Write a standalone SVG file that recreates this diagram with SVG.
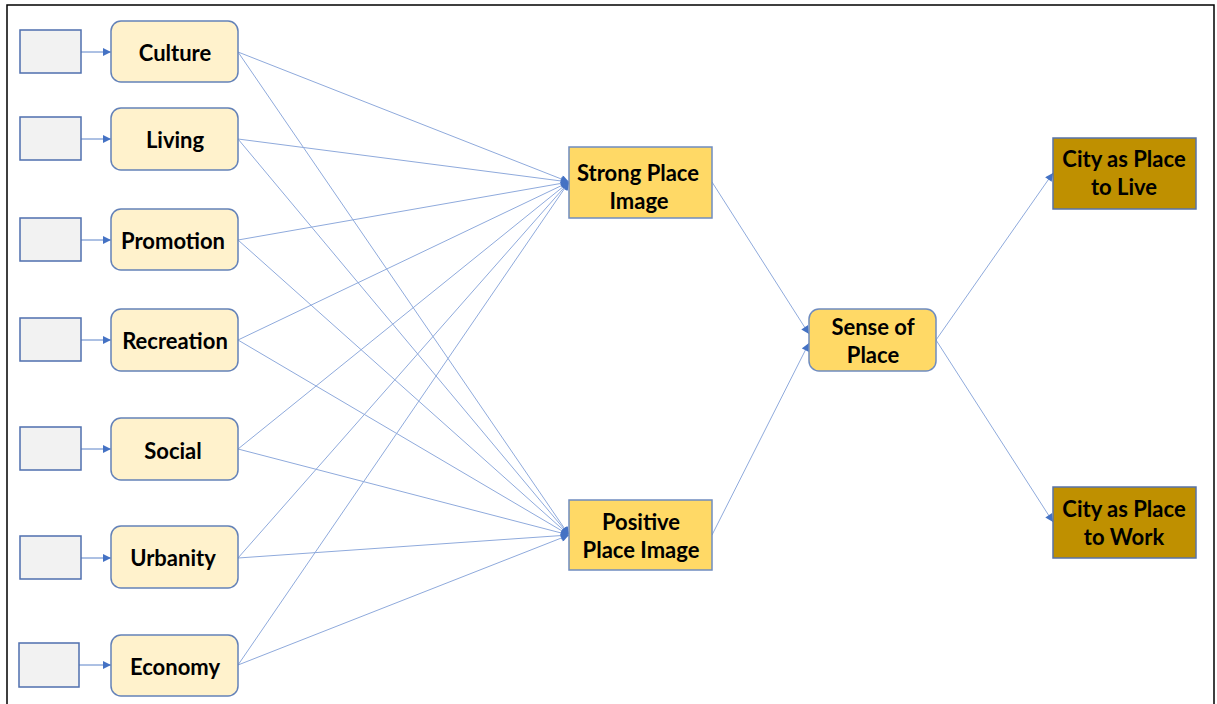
<svg xmlns="http://www.w3.org/2000/svg" width="1217" height="704" viewBox="0 0 1217 704">
<style>
.frame{fill:none;stroke:#000;stroke-width:1.5}
.gray{fill:#F2F2F2;stroke:#4F6FAE;stroke-width:1.5}
.factor{fill:#FFF2CC;stroke:#6482B8;stroke-width:1.5}
.mid{fill:#FFD966;stroke:#6F8CC0;stroke-width:1.5}
.city{fill:#BF9000;stroke:#5873A8;stroke-width:1.5}
.t{font-family:"Lato","Liberation Sans",sans-serif;font-weight:bold;font-size:22px;fill:#000;text-anchor:middle}
.c{fill:none;stroke:#8FAADC;stroke-width:1;marker-end:url(#ah)}
.s{fill:none;stroke:#5B82C8;stroke-width:1;marker-end:url(#ah)}
</style>
<defs>
<marker id="ah" viewBox="0 0 10 10" refX="10" refY="5" markerWidth="9" markerHeight="8" markerUnits="userSpaceOnUse" orient="auto">
<path d="M0,0 L10,5 L0,10 z" fill="#4472C4"/>
</marker>
</defs>
<rect width="1217" height="704" fill="#fff"/>
<path class="frame" d="M7,720 L7,5 L1214,5 L1214,720"/>
<g id="connectors">
<line class="s" x1="81" y1="52" x2="111" y2="52"/>
<line class="s" x1="81" y1="139" x2="111" y2="139"/>
<line class="s" x1="81" y1="240" x2="111" y2="240"/>
<line class="s" x1="81" y1="340" x2="111" y2="340"/>
<line class="s" x1="81" y1="449" x2="111" y2="449"/>
<line class="s" x1="81" y1="558" x2="111" y2="558"/>
<line class="s" x1="79" y1="665" x2="111" y2="665"/>
<line class="c" x1="238" y1="52" x2="569" y2="182"/>
<line class="c" x1="238" y1="139" x2="569" y2="182"/>
<line class="c" x1="238" y1="240" x2="569" y2="182"/>
<line class="c" x1="238" y1="340" x2="569" y2="182"/>
<line class="c" x1="238" y1="449" x2="569" y2="182"/>
<line class="c" x1="238" y1="558" x2="569" y2="182"/>
<line class="c" x1="238" y1="665" x2="569" y2="182"/>
<line class="c" x1="238" y1="52" x2="569" y2="535"/>
<line class="c" x1="238" y1="139" x2="569" y2="535"/>
<line class="c" x1="238" y1="240" x2="569" y2="535"/>
<line class="c" x1="238" y1="340" x2="569" y2="535"/>
<line class="c" x1="238" y1="449" x2="569" y2="535"/>
<line class="c" x1="238" y1="558" x2="569" y2="535"/>
<line class="c" x1="238" y1="665" x2="569" y2="535"/>
<line class="c" x1="712" y1="182" x2="809" y2="334"/>
<line class="c" x1="712" y1="535" x2="809" y2="343"/>
<line class="c" x1="936" y1="340" x2="1053" y2="173"/>
<line class="c" x1="936" y1="340" x2="1053" y2="522"/>
</g>
<g id="g-culture"><rect class="gray" x="20" y="30" width="61" height="43"/></g>
<g id="g-living"><rect class="gray" x="20" y="117" width="61" height="43"/></g>
<g id="g-promotion"><rect class="gray" x="20" y="218" width="61" height="43"/></g>
<g id="g-recreation"><rect class="gray" x="20" y="318" width="61" height="43"/></g>
<g id="g-social"><rect class="gray" x="20" y="427" width="61" height="43"/></g>
<g id="g-urbanity"><rect class="gray" x="20" y="536" width="61" height="43"/></g>
<g id="g-economy"><rect class="gray" x="19" y="643" width="60" height="44"/></g>
<g id="culture"><rect class="factor" x="111" y="21" width="127" height="61" rx="10"/><text class="t" x="175" y="61">Culture</text></g>
<g id="living"><rect class="factor" x="111" y="108" width="127" height="62" rx="10"/><text class="t" x="175" y="148">Living</text></g>
<g id="promotion"><rect class="factor" x="111" y="209" width="127" height="61" rx="10"/><text class="t" x="173" y="249">Promotion</text></g>
<g id="recreation"><rect class="factor" x="111" y="309" width="127" height="62" rx="10"/><text class="t" x="175" y="349">Recreation</text></g>
<g id="social"><rect class="factor" x="111" y="418" width="127" height="62" rx="10"/><text class="t" x="173" y="459">Social</text></g>
<g id="urbanity"><rect class="factor" x="111" y="526" width="127" height="62" rx="10"/><text class="t" x="173" y="566">Urbanity</text></g>
<g id="economy"><rect class="factor" x="111" y="635" width="127" height="61" rx="10"/><text class="t" x="175" y="675">Economy</text></g>
<g id="strong"><rect class="mid" x="569" y="147" width="143" height="71"/><text class="t" x="638" y="181">Strong Place</text><text class="t" x="639" y="209">Image</text></g>
<g id="positive"><rect class="mid" x="569" y="500" width="143" height="70"/><text class="t" x="641" y="530">Positive</text><text class="t" x="641" y="558">Place Image</text></g>
<g id="sense"><rect class="mid" x="809" y="309" width="127" height="62" rx="10"/><text class="t" x="873" y="335">Sense of</text><text class="t" x="873" y="363">Place</text></g>
<g id="live"><rect class="city" x="1053" y="138" width="143" height="71"/><text class="t" x="1124" y="167">City as Place</text><text class="t" x="1124" y="195">to Live</text></g>
<g id="work"><rect class="city" x="1053" y="487" width="143" height="71"/><text class="t" x="1124" y="517">City as Place</text><text class="t" x="1124" y="545">to Work</text></g>
</svg>
